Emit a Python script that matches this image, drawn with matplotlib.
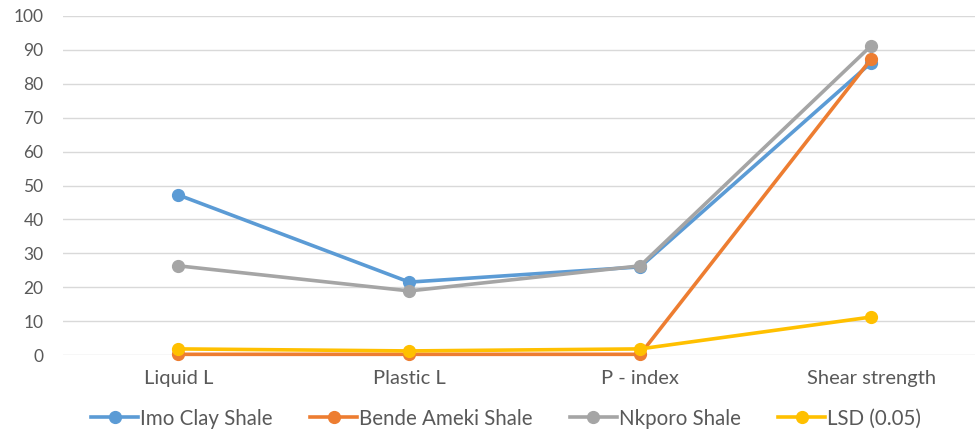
import matplotlib.pyplot as plt

categories = ["Liquid L", "Plastic L", "P - index", "Shear strength"]
imo_clay = [47.2, 21.5, 26.0, 86.2]
bende_ameki = [0.2, 0.2, 0.2, 87.3]
nkporo = [26.3, 18.9, 26.3, 91.2]
lsd = [1.8, 1.2, 1.8, 11.2]

series_names = ["Imo Clay Shale", "Bende Ameki Shale", "Nkporo Shale", "LSD (0.05)"]
colors = ["#5B9BD5", "#ED7D31", "#A5A5A5", "#FFC000"]

plt.rcParams['font.family'] = ['Lato', 'DejaVu Sans']

fig = plt.figure(figsize=(9.77, 4.34), dpi=100)
ax = fig.add_axes([63 / 977, 79 / 434, 912 / 977, 339 / 434])

x = range(len(categories))
for vals, name, c in zip([imo_clay, bende_ameki, nkporo, lsd], series_names, colors):
    ax.plot(x, vals, color=c, linewidth=2.6, marker="o", markersize=8.5,
            label=name, clip_on=False)

ax.set_xlim(-0.5, 3.45)
ax.set_ylim(0, 100)
ax.set_yticks(range(0, 101, 10))
ax.set_xticks(list(x))
ax.set_xticklabels(categories)
ax.yaxis.grid(True, color="#D9D9D9", linewidth=1)
ax.set_axisbelow(True)
for s in ax.spines.values():
    s.set_visible(False)
ax.tick_params(axis="both", length=0, labelsize=12.5, colors="#595959")
ax.tick_params(axis="y", pad=14)
ax.tick_params(axis="x", pad=11, labelsize=14.5)

fig.legend(loc="lower center", bbox_to_anchor=(0.518, -0.03), ncol=4, frameon=False,
           fontsize=14.8, handlelength=2.3, columnspacing=1.8, handletextpad=0.1,
           labelcolor="#595959")

fig.savefig("out.png", dpi=100)
